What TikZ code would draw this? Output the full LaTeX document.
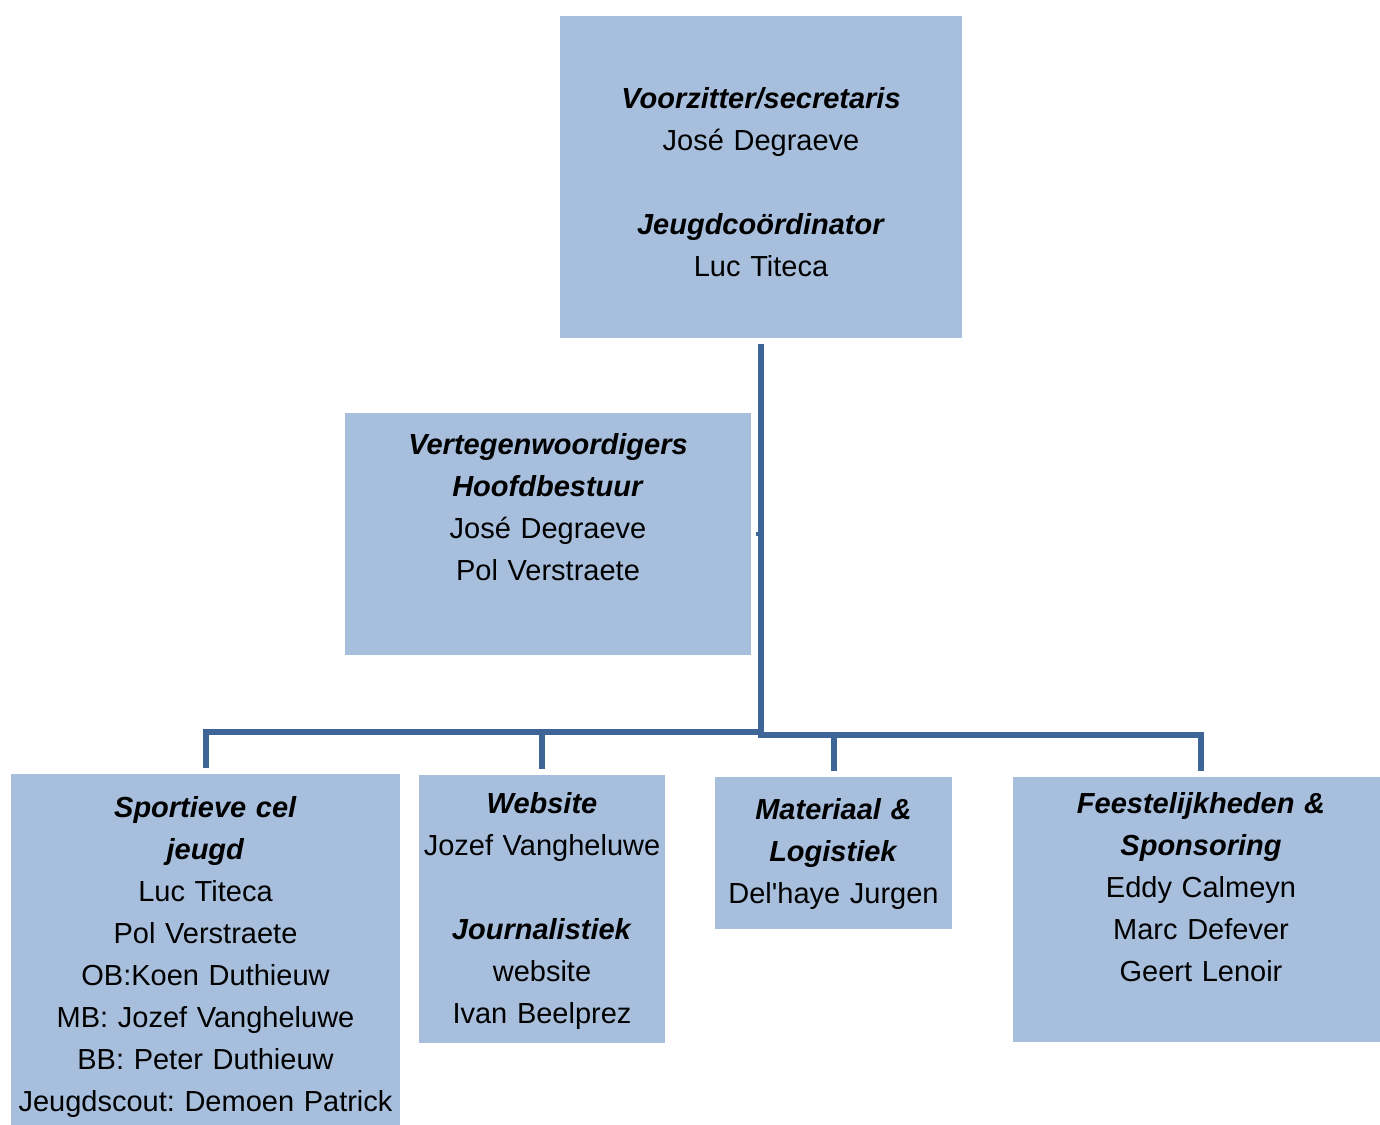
\documentclass[tikz,border=0pt]{standalone}
\usepackage{fontspec}
\setmainfont{Liberation Sans}
\frenchspacing
\definecolor{vak}{RGB}{167,191,221}
\definecolor{lijn}{RGB}{62,101,151}
\tikzset{
  vak/.style={fill=vak, draw=none, inner sep=0pt},
  tekst/.style={anchor=base, text width=250pt, align=center, inner sep=0pt, font=\fontsize{14.5}{21}\selectfont},
  verbinding/.style={draw=lijn, line width=3pt}
}
\newcommand{\titel}[1]{\textbf{\textit{#1}}}

\begin{document}
\begin{tikzpicture}[x=0.5pt, y=-0.5pt]
\clip (0,0) rectangle (1380,1124);

% boxes
\node[vak, minimum width=201pt, minimum height=161pt] (top) at (761,177) {};
\node[vak, minimum width=203pt, minimum height=121pt] (vert) at (548,534) {};
\node[vak, minimum width=194.5pt, minimum height=178pt] (sport) at (205.5,952) {};
\node[vak, minimum width=123pt, minimum height=134pt] (web) at (542,909) {};
\node[vak, minimum width=118.5pt, minimum height=76pt] (mat) at (833.5,853) {};
\node[vak, minimum width=188pt, minimum height=132.5pt] (feest) at (1201,909.5) {};

% texts
\node[tekst] (topTxt) at (761,108) {\titel{Voorzitter/secretaris}\\ José Degraeve\\[21pt] \titel{Jeugdcoördinator}\\ Luc Titeca};
\node[tekst] (vertTxt) at (548,454) {\titel{Vertegenwoordigers}\\ \titel{Hoofdbestuur}\\ José Degraeve\\ Pol Verstraete};
\node[tekst] (sportTxt) at (205.5,817) {\titel{Sportieve cel}\\ \titel{jeugd}\\ Luc Titeca\\ Pol Verstraete\\ OB:Koen Duthieuw\\ MB: Jozef Vangheluwe\\ BB: Peter Duthieuw\\ Jeugdscout: Demoen Patrick};
\node[tekst] (webTxt) at (542,813) {\titel{Website}\\ Jozef Vangheluwe\\[21pt] \titel{Journalistiek}\\ website\\ Ivan Beelprez};
\node[tekst] (matTxt) at (833.5,819) {\titel{Materiaal \&}\\ \titel{Logistiek}\\ Del\textquotesingle haye Jurgen};
\node[tekst] (feestTxt) at (1201,813) {\titel{Feestelijkheden \&}\\ \titel{Sponsoring}\\ Eddy Calmeyn\\ Marc Defever\\ Geert Lenoir};

% connectors
\coordinate (stam) at (761,738);
\coordinate (hub) at (761,735);
\coordinate (hubL) at (761,732);
\draw[verbinding, shorten <=3pt] (top.south) -- (stam);
\draw[verbinding, line width=2pt, shorten <=2.5pt] (vert.east) -- (vert.east -| hub);
\draw[verbinding, shorten >=3pt] (hubL) -| (sport.north);
\draw[verbinding, shorten >=3pt] (hubL) -| (web.north);
\draw[verbinding, shorten >=3pt] (hub) -| (mat.north);
\draw[verbinding, shorten >=3pt] (hub) -| (feest.north);
\end{tikzpicture}
\end{document}
